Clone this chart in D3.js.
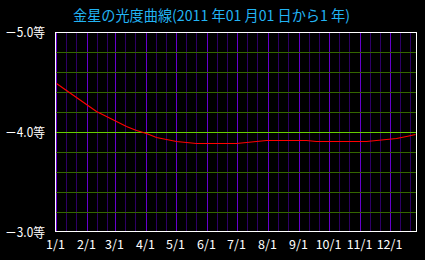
<!DOCTYPE html>
<html>
<meta http-equiv="content-type" content="text/html; charset=utf-8" />
<head>
    <title>金星の光度曲線</title>
</head>

<style>
body {
  margin: 0;
  background: #000;
}
.label {
  font-family: "Noto Sans CJK JP", "Noto Sans", sans-serif;
  fill: #fff;
}
</style>

<svg class="chart"></svg>
<script src="https://d3js.org/d3.v7.min.js"></script>

<script type="text/javascript">
  var dates = ["2011-01-01", "2011-01-11", "2011-01-21", "2011-01-31", "2011-02-10", "2011-02-20",
    "2011-03-02", "2011-03-12", "2011-03-22", "2011-04-01", "2011-04-11", "2011-04-21",
    "2011-05-01", "2011-05-11", "2011-05-21", "2011-05-31", "2011-06-10", "2011-06-20",
    "2011-06-30", "2011-07-10", "2011-07-20", "2011-07-30", "2011-08-09", "2011-08-19",
    "2011-08-29", "2011-09-08", "2011-09-18", "2011-09-28", "2011-10-08", "2011-10-18",
    "2011-10-28", "2011-11-07", "2011-11-17", "2011-11-27", "2011-12-07", "2011-12-17",
    "2011-12-26"];
  var mags = [-4.49, -4.42, -4.35, -4.28, -4.21, -4.16, -4.11, -4.06, -4.02, -3.99, -3.95, -3.93,
    -3.91, -3.90, -3.89, -3.89, -3.89, -3.89, -3.89, -3.90, -3.91, -3.92, -3.92, -3.92,
    -3.92, -3.92, -3.91, -3.91, -3.91, -3.91, -3.91, -3.91, -3.92, -3.93, -3.94, -3.96,
    -3.98];
  var months = ["1/1", "2/1", "3/1", "4/1", "5/1", "6/1", "7/1", "8/1", "9/1", "10/1", "11/1", "12/1"];
  var yTicks = [-5.0, -4.0, -3.0];
  var title = "金星の光度曲線(2011 年01 月01 日から1 年)";

  var width = 425, height = 260;
  var parse = d3.utcParse("%Y-%m-%d");

  var xScale = d3.scaleUtc()
    .domain([parse("2011-01-01"), parse("2011-12-27")])
    .range([56, 416]);
  var yScale = d3.scaleLinear()
    .domain([-5, -3])
    .range([32, 232]);

  var svg = d3.select(".chart")
    .attr("width", width)
    .attr("height", height);

  svg.append("rect")
    .attr("width", width)
    .attr("height", height)
    .attr("fill", "#000");

  // vertical grid: 1st (bright), 11th and 21st (dark) of each month
  var vlines = [];
  d3.range(12).forEach(function(m) {
    [1, 11, 21].forEach(function(day) {
      var d = new Date(Date.UTC(2011, m, day));
      if (d <= xScale.domain()[1]) vlines.push({date: d, major: day == 1});
    });
  });
  svg.append("g").selectAll("line")
    .data(vlines).enter()
    .append("line")
    .attr("x1", function(d) { return Math.round(xScale(d.date)) + 0.5; })
    .attr("x2", function(d) { return Math.round(xScale(d.date)) + 0.5; })
    .attr("y1", 33)
    .attr("y2", 231)
    .attr("stroke", function(d) { return d.major ? "#6600cc" : "#2e0066"; })
    .attr("stroke-width", 1)
    .style("shape-rendering", "crispEdges");

  // horizontal grid every 0.2 mag
  var hvals = d3.range(1, 10).map(function(i) { return -5 + i * 0.2; });
  svg.append("g").selectAll("line")
    .data(hvals).enter()
    .append("line")
    .attr("x1", 56)
    .attr("x2", 416)
    .attr("y1", function(d) { return Math.round(yScale(d)) + 0.5; })
    .attr("y2", function(d) { return Math.round(yScale(d)) + 0.5; })
    .attr("stroke", function(d) { return Math.abs(d + 4) < 1e-6 ? "#66cc00" : "#336600"; })
    .attr("stroke-width", 1)
    .style("shape-rendering", "crispEdges");

  // light curve
  var data = dates.map(function(d, i) { return {date: parse(d), mag: mags[i]}; });
  var line = d3.line()
    .x(function(d) { return xScale(d.date) + 0.5; })
    .y(function(d) { return yScale(d.mag) + 0.5; });
  svg.append("path")
    .datum(data)
    .attr("d", line)
    .attr("fill", "none")
    .attr("stroke", "#ff0000")
    .attr("stroke-width", 1.2);

  // frame
  svg.append("rect")
    .attr("x", 55.5)
    .attr("y", 32.5)
    .attr("width", 361)
    .attr("height", 199)
    .attr("fill", "none")
    .attr("stroke", "#fff")
    .attr("stroke-width", 1)
    .style("shape-rendering", "crispEdges");

  // y labels
  svg.append("g").selectAll("text")
    .data(yTicks).enter()
    .append("text")
    .attr("class", "label")
    .attr("x", 5)
    .attr("y", function(d) { return yScale(d); })
    .attr("dy", "0.36em")
    .attr("textLength", 40)
    .attr("lengthAdjust", "spacingAndGlyphs")
    .style("font-size", "13px")
    .text(function(d) { return "－" + Math.abs(d).toFixed(1) + "等"; });

  // x labels
  svg.append("g").selectAll("text")
    .data(months).enter()
    .append("text")
    .attr("class", "label")
    .attr("x", function(d, i) { return xScale(new Date(Date.UTC(2011, i, 1))) - 0.5; })
    .attr("y", 249)
    .attr("text-anchor", "middle")
    .style("font-size", "12.5px")
    .text(function(d) { return d; });

  svg.append("text")
    .attr("x", 73)
    .attr("y", 21)
    .attr("textLength", 277)
    .attr("lengthAdjust", "spacingAndGlyphs")
    .style("font-family", "'Noto Sans CJK JP', sans-serif")
    .style("font-size", "14.5px")
    .style("fill", "#22b4f4")
    .text(title);
</script>

</html>
